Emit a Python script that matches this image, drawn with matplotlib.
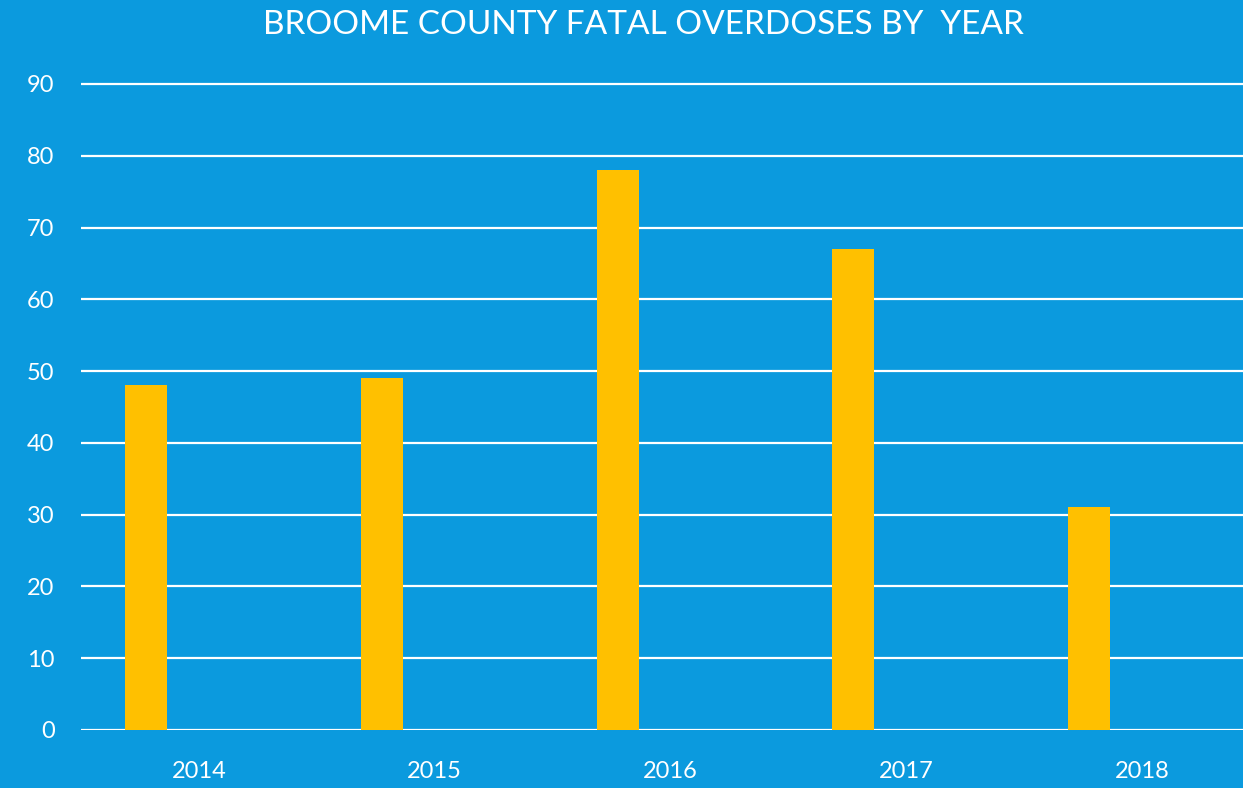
import matplotlib.pyplot as plt

years = ["2014", "2015", "2016", "2017", "2018"]
deaths = [48, 49, 78, 67, 31]
y_ticks = [0, 10, 20, 30, 40, 50, 60, 70, 80, 90]

BG = "#0B9ADE"
BAR = "#FFC000"

plt.rcParams["font.family"] = ["Lato", "DejaVu Sans"]

fig = plt.figure(figsize=(12.43, 7.88), dpi=100, facecolor=BG)
# axes run past the right edge, like the original slide
ax = fig.add_axes([81 / 1243, 58 / 788, 1179 / 1243, 92 * 7.178 / 788])
ax.set_facecolor(BG)

x = list(range(len(years)))
ax.bar([i - 0.224 for i in x], deaths, width=0.178, color=BAR, zorder=3)

ax.set_xlim(-0.5, len(years) - 0.5)
ax.set_ylim(0, 92)
ax.set_yticks(y_ticks)
ax.set_xticks(x)
ax.set_xticklabels(years)
for y in y_ticks:
    ax.axhline(y, color="white", lw=1.6, zorder=2)

for s in ax.spines.values():
    s.set_visible(False)
ax.tick_params(axis="y", length=0, pad=19, labelsize=17, labelcolor="white")
ax.tick_params(axis="x", length=0, pad=22, labelsize=17, labelcolor="white")

fig.text(643 / 1243, 1 - 25 / 788, "BROOME COUNTY FATAL OVERDOSES BY  YEAR",
         ha="center", va="center", color="white", fontsize=24, fontweight="normal")

fig.savefig("out.png", dpi=100, facecolor=BG)
